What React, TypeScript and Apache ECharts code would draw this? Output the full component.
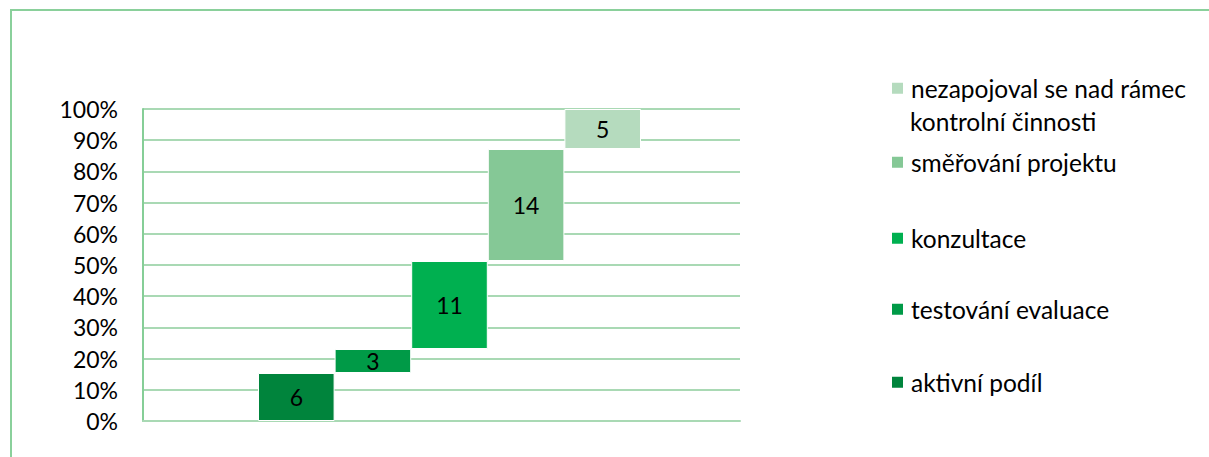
import React, { useEffect, useRef } from "react";
import * as echarts from "echarts";

const seriesNames = [
  "aktivní podíl",
  "testování evaluace",
  "konzultace",
  "směřování projektu",
  "nezapojoval se nad rámec kontrolní činnosti",
];
const counts = [6, 3, 11, 14, 5];
const colors = ["#00843C", "#009A47", "#00B050", "#85C896", "#B5DBBE"];
const yTicks = [0, 0.1, 0.2, 0.3, 0.4, 0.5, 0.6, 0.7, 0.8, 0.9, 1];
const legendLabels = [
  "aktivní podíl",
  "testování evaluace",
  "konzultace",
  "směřování projektu",
  "nezapojoval se nad rámec",
];
const legendSecondLine = "kontrolní činnosti";
const legendCentersY = [382, 309, 238, 162, 88];

const FONT = "Lato";
const LEG_SIZE = 24.5;
const AXIS_SIZE = 23;

export default function App() {
  const ref = useRef<HTMLDivElement>(null);
  useEffect(() => {
    if (!ref.current) return;
    const chart = echarts.init(ref.current, undefined, { renderer: "svg" });
    const total = counts.reduce((a, b) => a + b, 0);
    const cats = seriesNames.map((_, i) => "c" + i);
    const bases: number[] = [];
    let acc = 0;
    counts.forEach((c) => {
      bases.push(acc / total);
      acc += c;
    });
    const seriesList: any[] = [
      {
        type: "bar",
        name: "base",
        xAxisIndex: 1,
        yAxisIndex: 1,
        stack: "s",
        data: bases,
        itemStyle: { color: "transparent" },
        silent: true,
        barCategoryGap: "0%",
      },
    ];
    seriesNames.forEach((name, i) => {
      seriesList.push({
        type: "bar",
        name,
        xAxisIndex: 1,
        yAxisIndex: 1,
        stack: "s",
        barCategoryGap: "0%",
        data: counts.map((c, j) => (j === i ? c / total : "-")),
        itemStyle: { color: colors[i], borderColor: "#ffffff", borderWidth: 1 },
        label: {
          show: true,
          position: "inside",
          formatter: () => String(counts[i]),
          color: "#000",
          fontFamily: FONT,
          fontSize: AXIS_SIZE,
        },
      });
    });
    const legends = legendLabels.map((lbl, i) => ({
      data: [{ name: seriesNames[i], itemStyle: { color: colors[i] } }],
      formatter: () => lbl,
      left: 890,
      top: legendCentersY[i] - LEG_SIZE / 2,
      padding: 0,
      itemWidth: 13,
      itemHeight: 13,
      itemGap: 0,
      icon: "rect",
      selectedMode: false,
      textStyle: {
        fontFamily: FONT,
        fontSize: LEG_SIZE,
        color: "#000",
        lineHeight: LEG_SIZE,
        padding: [0, 0, 0, 2],
      },
    }));
    chart.setOption({
      animation: false,
      legend: legends,
      graphic: [
        {
          type: "rect",
          shape: { x: 11, y: 10, width: 1300, height: 600 },
          style: { fill: "none", stroke: "#8AD09B", lineWidth: 2 },
          silent: true,
        },
        {
          type: "text",
          x: 910,
          y: 121,
          style: {
            text: legendSecondLine,
            font: `${LEG_SIZE}px ${FONT}`,
            fill: "#000",
            verticalAlign: "middle",
          },
        },
      ],
      grid: [
        { left: 143, right: 1209 - 740, top: 109, bottom: 457 - 421 },
        { left: 258, right: 1209 - 641, top: 109, bottom: 457 - 421 },
      ],
      xAxis: [
        {
          type: "category",
          gridIndex: 0,
          data: ["x"],
          axisLine: { show: true, lineStyle: { color: "#A9D9B4", width: 2 } },
          axisTick: { show: false },
          axisLabel: { show: false },
        },
        {
          type: "category",
          gridIndex: 1,
          data: cats,
          show: false,
        },
      ],
      yAxis: [
        {
          type: "value",
          gridIndex: 0,
          min: 0,
          max: 1,
          interval: 0.1,
          axisLine: { show: true, lineStyle: { color: "#86CE97", width: 2 } },
          axisTick: { show: false },
          splitLine: { show: true, lineStyle: { color: "#A9D9B4", width: 2 } },
          axisLabel: {
            margin: 25,
            color: "#000",
            fontFamily: FONT,
            fontSize: AXIS_SIZE,
            formatter: (v: number) => {
              const t = yTicks.find((x) => Math.abs(x - v) < 1e-6);
              return Math.round((t ?? v) * 100) + "%";
            },
          },
        },
        {
          type: "value",
          gridIndex: 1,
          min: 0,
          max: 1,
          show: false,
          splitLine: { show: false },
        },
      ],
      series: seriesList,
    });
    return () => chart.dispose();
  }, []);
  return (
    <div
      ref={ref}
      style={{ position: "absolute", left: 0, top: 0, width: 1209, height: 457, background: "#fff" }}
    />
  );
}
